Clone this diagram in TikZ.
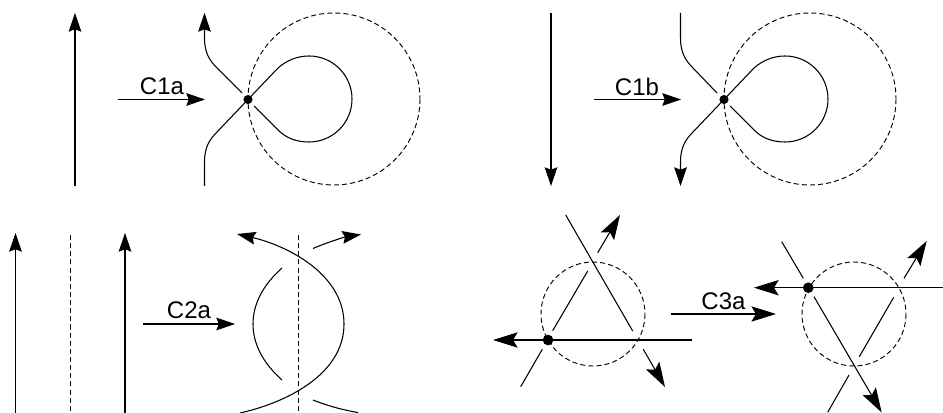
\documentclass[tikz,border=0pt]{standalone}
\usepackage{fontspec}
\setmainfont{Liberation Sans}
\usetikzlibrary{arrows.meta}

\begin{document}
\begin{tikzpicture}[
  x=0.75pt,y=-0.75pt,
  every node/.style={font=\fontsize{18}{20}\selectfont,inner sep=0pt},
  strand/.style={line width=.8pt},
  arr/.style={strand,-{Stealth[length=14pt,width=9.5pt,inset=1.8pt]}},
  bigarr/.style={strand,-{Stealth[length=18.5pt,width=11.5pt,inset=3.5pt]}},
  guide/.style={line width=.7pt,dash pattern=on 3.8pt off 2.3pt},
  crossing/.style={circle,fill=black,minimum size=6.8pt}]
  \path[use as bounding box] (0,0) rectangle (943,413);

  % Move C1a: upward strand and kink.
  \begin{scope}
    \draw[arr] (75,186) -- (75,13);
    \draw[arr] (118,99.5) -- (205,99.5);
    \node (c1a) at (162,86.5) {C1a};
    \draw[guide] (334,99) circle (86);
    \node[crossing] (dot1a) at (248,99.5) {};
    \draw[strand] (204.5,186) -- (204.5,162)
      .. controls (204.5,148) and (209,140) .. (217,132) -- (dot1a.center)
      -- (278,68) .. controls (287,60) and (298,56) .. (309,56)
      arc[start angle=-90,end angle=90,radius=43]
      .. controls (298,142) and (287,139) .. (278,130) -- (254,106);
    \draw[arr] (242,93) -- (217,68)
      .. controls (209,60) and (204.5,52) .. (204.5,38) -- (204.5,13);
  \end{scope}

  % Move C1b: downward strand and kink.
  \begin{scope}
    \draw[arr] (551,13) -- (551,186);
    \draw[arr] (594,99.5) -- (681,99.5);
    \node (c1b) at (637,86.5) {C1b};
    \draw[guide] (810,99) circle (86);
    \node[crossing] (dot1b) at (724,99.5) {};
    \draw[strand] (680.5,13) -- (680.5,38)
      .. controls (680.5,52) and (685,60) .. (693,68) -- (717,93);
    \draw[strand] (730,106) -- (754,130)
      .. controls (763,139) and (774,142) .. (785,142)
      arc[start angle=90,end angle=-90,radius=43]
      .. controls (774,56) and (763,60) .. (754,68) -- (dot1b.center);
    \draw[arr] (dot1b.center) -- (693,132)
      .. controls (685,140) and (680.5,148) .. (680.5,162) -- (680.5,186);
  \end{scope}

  % Move C2a: two parallel strands pulled across the guide.
  \begin{scope}
    \draw[arr] (15.5,413) -- (15.5,233);
    \draw[arr] (125,413) -- (125,233);
    \draw[guide] (70,235) -- (70,413);
    \draw[arr] (143,324) -- (235,324);
    \node (c2a) at (189,310) {C2a};
    \draw[guide] (298.5,235) -- (298.5,413);
    \draw[strand] (282,268) .. controls (263,285) and (253,304) .. (253,324)
      .. controls (253,344) and (263,363) .. (282,380);
    \draw[arr] (240,413) .. controls (285,403) and (344,375) .. (344,324)
      .. controls (344,273) and (285,245) .. (237,234);
    \draw[arr] (313,248.5) .. controls (328,242) and (345,237) .. (361,234.5);
    \draw[strand] (313,400) .. controls (328,406) and (343,410) .. (358,412.5);
  \end{scope}

  % Move C3a, left side.
  \begin{scope}
    \draw[guide] (593,314) circle (52);
    \node[crossing,minimum size=8pt] (dot3l) at (548,340) {};
    \draw[bigarr] (692,340) -- (493,340);
    \draw[strand] (565.7,215) -- (632.7,331);
    \draw[strand] (587.7,271) -- (552.7,330.7);
    \draw[strand] (542.3,349.3) -- (520.7,386.7);
    \draw[bigarr] (597.7,252.7) -- (620,215);
    \draw[bigarr] (643.3,349.3) -- (665,387);
  \end{scope}

  \draw[bigarr] (671,314) -- (776,314);
  \node (c3a) at (723.5,301.5) {C3a};

  % Move C3a, right side.
  \begin{scope}
    \draw[guide] (854,314) circle (52);
    \node[crossing,minimum size=8pt] (dot3r) at (808.3,287.7) {};
    \draw[bigarr] (942.7,287.7) -- (754,287.7);
    \draw[strand] (781.7,241.7) -- (803.3,278.3);
    \draw[bigarr] (814,296.7) -- (881.7,412.5);
    \draw[bigarr] (904,278.3) -- (926.7,241);
    \draw[strand] (893.7,297.3) -- (859.3,356.7);
    \draw[strand] (849,375) -- (827.7,412.3);
  \end{scope}
\end{tikzpicture}
\end{document}
